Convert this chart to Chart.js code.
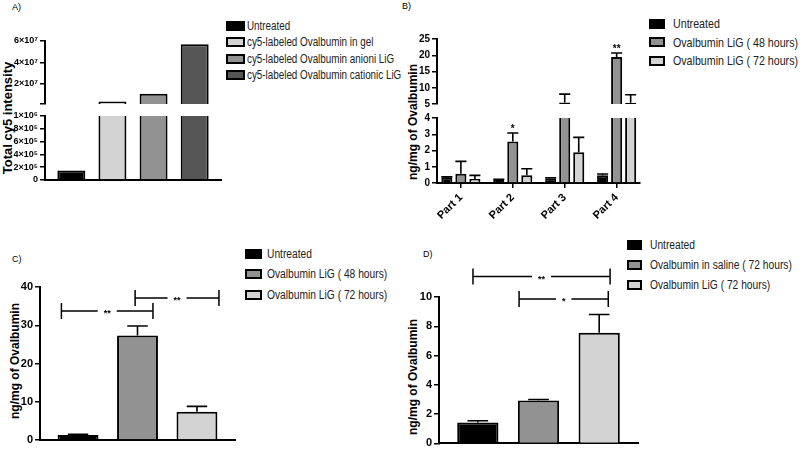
<!DOCTYPE html>
<html>
<head>
<meta charset="utf-8">
<script src="https://cdn.jsdelivr.net/npm/chart.js@4.4.1/dist/chart.umd.min.js"></script>
<style>
  body { margin: 0; width: 800px; height: 452px; position: relative; overflow: hidden; background: #fff;
         font-family: "Liberation Sans", Arial, sans-serif; color: #000; }
  canvas { position: absolute; }
  .tag { position: absolute; font-size: 9px; line-height: 9px; }
  .ytitle { position: absolute; font-weight: bold; white-space: nowrap; line-height: 1;
            transform: translate(-50%, -50%) rotate(-90deg); }
  .legend { position: absolute; font-family: "Liberation Sans", Arial, sans-serif; color: #222; }
  .legend .row { display: flex; align-items: center; white-space: nowrap; }
  .legend .box { box-sizing: border-box; border: 2px solid #000; flex: none; }
  .legend .txt { display: inline-block; transform: scaleX(0.82); transform-origin: left center; }
</style>
</head>
<body>
<div class="tag" style="left:12px;top:3px">A)</div>
<div class="tag" style="left:402px;top:2px">B)</div>
<div class="tag" style="left:12px;top:255px">C)</div>
<div class="tag" style="left:423px;top:250px">D)</div>

<div class="ytitle" style="left:7px;top:118px;font-size:13px">Total cy5 intensity</div>
<div class="ytitle" style="left:413px;top:122px;font-size:12px">ng/mg of Ovalbumin</div>
<div class="ytitle" style="left:15px;top:361px;font-size:12px">ng/mg of Ovalbumin</div>
<div class="ytitle" style="left:413px;top:377px;font-size:12px">ng/mg of Ovalbumin</div>

<div id="legA" class="legend"></div>
<div id="legB" class="legend"></div>
<div id="legC" class="legend"></div>
<div id="legD" class="legend"></div>

<canvas id="aUp"></canvas>
<canvas id="aLow"></canvas>
<canvas id="bUp"></canvas>
<canvas id="bLow"></canvas>
<canvas id="cChart"></canvas>
<canvas id="dChart"></canvas>

<script>
// ---- A) total cy5 intensity ----
const aCategories = ['Untreated', 'cy5-labeled Ovalbumin in gel', 'cy5-labeled Ovalbumin anioni LiG', 'cy5-labeled Ovalbumin cationic LiG'];
const aValues = [1.5e5, 3.4e6, 1.06e7, 5.69e7];
const aUpperTicks = [1e6, 2e7, 4e7, 6e7];
const aUpperLabels = ['', '2×10⁷', '4×10⁷', '6×10⁷'];
const aLowerTicks = [0, 2e5, 4e5, 6e5, 8e5, 1e6];
const aLowerLabels = ['0', '2×10⁵', '4×10⁵', '6×10⁵', '8×10⁵', '1×10⁶'];

// ---- B) by part ----
const bParts = ['Part 1', 'Part 2', 'Part 3', 'Part 4'];
const bSeries = ['Untreated', 'Ovalbumin LiG ( 48 hours)', 'Ovalbumin LiG ( 72 hours)'];
const bUntreated = [0.35, 0.20, 0.29, 0.47];
const bUntreatedErr = [0.03, 0.03, 0.03, 0.08];
const b48h = [0.57, 2.56, 5.5, 19.5];
const b48hErr = [0.76, 0.52, 2.55, 1.2];
const b72h = [0.25, 0.47, 1.89, 5.4];
const b72hErr = [0.22, 0.41, 0.92, 2.45];
const bUpperTicks = [5, 10, 15, 20, 25];
const bLowerTicks = [0, 1, 2, 3, 4];
const bStars = [{ part: 1, series: 1, text: '*' }, { part: 3, series: 1, text: '**' }];

// ---- C) ----
const cSeries = ['Untreated', 'Ovalbumin LiG ( 48 hours)', 'Ovalbumin LiG ( 72 hours)'];
const cValues = [1.3, 27.3, 7.4];
const cErrors = [0.2, 2.5, 1.4];
const cTicks = [0, 10, 20, 30, 40];
const cBrackets = [{ from: -0.28, to: 1.26, y: 33.7, text: '**' }, { from: 0.96, to: 2.37, y: 37.1, text: '**' }];

// ---- D) ----
const dSeries = ['Untreated', 'Ovalbumin in saline ( 72 hours)', 'Ovalbumin LiG ( 72 hours)'];
const dValues = [1.42, 2.93, 7.55];
const dErrors = [0.13, 0.07, 1.25];
const dTicks = [0, 2, 4, 6, 8, 10];
const dBrackets = [{ from: -0.08, to: 2.18, y: 11.4, text: '**' }, { from: 0.68, to: 2.15, y: 9.87, text: '*' }];

const BLACK = '#000', MID = '#929292', LIGHT = '#d3d3d3', DARK = '#555';
const aColors = [BLACK, LIGHT, MID, DARK];
const threeColors = [BLACK, MID, LIGHT];

Chart.defaults.font.family = '"Liberation Sans", Arial, sans-serif';
Chart.defaults.color = '#000';
Chart.defaults.animation = false;
Chart.defaults.plugins.legend.display = false;
Chart.defaults.plugins.tooltip.enabled = false;

// legends as html
function legend(id, names, colors, st) {
  const el = document.getElementById(id);
  el.style.left = st.left + 'px';
  el.style.top = st.top + 'px';
  el.style.fontSize = st.font + 'px';
  el.innerHTML = names.map((n, i) =>
    `<div class="row" style="height:${st.row}px"><span class="box" style="width:${st.bw}px;height:${st.bh}px;background:${colors[i]}"></span>` +
    `<span class="txt" style="margin-left:${st.gap}px">${n}</span></div>`).join('');
}
legend('legA', aCategories, aColors, { left: 226, top: 18, row: 16.3, font: 12, bw: 19, bh: 10, gap: 2 });
legend('legB', bSeries, threeColors, { left: 649, top: 14.7, row: 18.5, font: 13, bw: 16, bh: 10, gap: 8 });
legend('legC', cSeries, threeColors, { left: 245, top: 243.7, row: 20.5, font: 12.5, bw: 17, bh: 10, gap: 5 });
legend('legD', dSeries, threeColors, { left: 627, top: 235, row: 20, font: 12.5, bw: 15, bh: 10, gap: 8 });

// error bars (upper whisker only)
const errorBars = {
  id: 'errorBars',
  afterDatasetsDraw(chart, args, opts) {
    const ctx = chart.ctx, a = chart.chartArea, y = chart.scales.y;
    ctx.save();
    ctx.beginPath();
    ctx.rect(a.left, a.top - 1, a.right - a.left, a.bottom - a.top + 1);
    ctx.clip();
    ctx.strokeStyle = '#000';
    ctx.lineWidth = 1.6;
    chart.data.datasets.forEach((ds, i) => {
      if (!ds.errors) return;
      chart.getDatasetMeta(i).data.forEach((bar, j) => {
        const v = ds.data[j].y, e = ds.errors[j];
        const y0 = y.getPixelForValue(v), y1 = y.getPixelForValue(v + e);
        const cap = bar.width * opts.cap / 2;
        ctx.beginPath();
        ctx.moveTo(bar.x, y0); ctx.lineTo(bar.x, y1);
        ctx.moveTo(bar.x - cap, y1); ctx.lineTo(bar.x + cap, y1);
        ctx.stroke();
      });
    });
    ctx.restore();
  }
};

// significance stars above a bar's error cap
const stars = {
  id: 'stars',
  afterDatasetsDraw(chart, args, opts) {
    if (!opts.list) return;
    const ctx = chart.ctx, y = chart.scales.y;
    ctx.save();
    ctx.font = 'bold 10px "Liberation Sans", Arial, sans-serif';
    ctx.textAlign = 'center';
    ctx.textBaseline = 'alphabetic';
    opts.list.forEach(s => {
      const ds = chart.data.datasets[s.series];
      const top = ds.data[s.part].y + ds.errors[s.part];
      if (top < y.min || top > y.max) return;
      const bar = chart.getDatasetMeta(s.series).data[s.part];
      ctx.fillText(s.text, bar.x, y.getPixelForValue(top) - 1);
    });
    ctx.restore();
  }
};

// brackets between groups
const brackets = {
  id: 'brackets',
  afterDatasetsDraw(chart, args, opts) {
    if (!opts.list) return;
    const ctx = chart.ctx, x = chart.scales.x, y = chart.scales.y;
    ctx.save();
    ctx.strokeStyle = '#000';
    ctx.lineWidth = 1.5;
    ctx.font = 'bold 9px "Liberation Sans", Arial, sans-serif';
    ctx.textAlign = 'center';
    ctx.textBaseline = 'alphabetic';
    opts.list.forEach(b => {
      const x1 = x.getPixelForValue(b.from), x2 = x.getPixelForValue(b.to);
      const py = y.getPixelForValue(b.y), mid = (x1 + x2) / 2;
      const half = ctx.measureText(b.text).width / 2 + 6;
      ctx.beginPath();
      ctx.moveTo(x1, py - 8); ctx.lineTo(x1, py + 8);
      ctx.moveTo(x2, py - 8); ctx.lineTo(x2, py + 8);
      ctx.moveTo(x1, py); ctx.lineTo(mid - half, py);
      ctx.moveTo(mid + half, py); ctx.lineTo(x2, py);
      ctx.stroke();
      ctx.fillText(b.text, mid, py + 5);
    });
    ctx.restore();
  }
};

function place(id, box, area, yWidth, xHeight) {
  const c = document.getElementById(id);
  c.style.left = box[0] + 'px';
  c.style.top = box[1] + 'px';
  c.style.width = box[2] + 'px';
  c.style.height = box[3] + 'px';
  c.width = box[2];
  c.height = box[3];
  return {
    left: area[0] - box[0] - yWidth,
    top: area[1] - box[1],
    right: box[0] + box[2] - area[2],
    bottom: box[1] + box[3] - area[3] - xHeight
  };
}

function yScale(min, max, ticks, labels, size, width) {
  return {
    min: min, max: max,
    afterBuildTicks: s => { s.ticks = ticks.map(v => ({ value: v })); },
    afterFit: s => { s.width = width; },
    ticks: { autoSkip: false, callback: (v, i) => labels[i], font: { size: size, weight: 'bold' }, padding: 2, color: '#000' },
    grid: { drawOnChartArea: false, tickLength: 5, color: '#000', lineWidth: 1.5 },
    border: { color: '#000', width: 2 }
  };
}

function xScale(cats, lo, hi, show, height) {
  const s = {
    type: 'linear', min: lo, max: hi, display: show !== false, offset: false,
    afterBuildTicks: sc => { sc.ticks = cats.map((c, i) => ({ value: i })); },
    ticks: { display: false },
    grid: { display: false, offset: false },
    border: { color: '#000', width: 2 }
  };
  if (height !== undefined) s.afterFit = sc => { sc.height = height; };
  return s;
}

function series(values, colors, errors) {
  return {
    data: values.map((v, i) => ({ x: i, y: v })),
    backgroundColor: colors,
    borderColor: '#000',
    borderWidth: 2,
    borderSkipped: 'start',
    clip: 0,
    errors: errors
  };
}

const fmt = v => v.toString();

// ---- A upper / lower ----
new Chart(document.getElementById('aUp'), {
  type: 'bar',
  data: { datasets: [Object.assign(series(aValues, aColors), { categoryPercentage: 0.8, barPercentage: 0.85 })] },
  options: {
    responsive: false,
    layout: { padding: place('aUp', [0, 26, 232, 88], [45, 41, 221, 104], 43, 0) },
    scales: { x: xScale(aCategories, -0.64, 3.64, false), y: yScale(1e6, 6e7, aUpperTicks, aUpperLabels, 9, 43) }
  }
});
new Chart(document.getElementById('aLow'), {
  type: 'bar',
  data: { datasets: [Object.assign(series(aValues, aColors), { categoryPercentage: 0.8, barPercentage: 0.85 })] },
  options: {
    responsive: false,
    layout: { padding: place('aLow', [0, 106, 232, 84], [45, 116, 221, 180], 43, 0) },
    scales: { x: xScale(aCategories, -0.64, 3.64, true, 0), y: yScale(0, 1e6, aLowerTicks, aLowerLabels, 9, 43) }
  }
});

// ---- B upper / lower ----
function bData() {
  return [
    series(bUntreated, BLACK, bUntreatedErr),
    series(b48h, MID, b48hErr),
    series(b72h, LIGHT, b72hErr)
  ].map(d => Object.assign(d, { categoryPercentage: 0.81, barPercentage: 0.79 }));
}
new Chart(document.getElementById('bUp'), {
  type: 'bar',
  data: { datasets: bData() },
  options: {
    responsive: false,
    layout: { padding: place('bUp', [400, 24, 245, 90], [437, 39, 640, 104], 35, 0) },
    plugins: { errorBars: { cap: 1.0 }, stars: { list: bStars } },
    scales: { x: xScale(bParts, -0.46, 3.45, false), y: yScale(5, 25, bUpperTicks, bUpperTicks.map(fmt), 10, 35) }
  },
  plugins: [errorBars, stars]
});
const bLowX = xScale(bParts, -0.46, 3.45, true, 40);
bLowX.ticks = { display: true, autoSkip: false, minRotation: 45, maxRotation: 45, padding: 3,
                callback: v => bParts[v], font: { size: 11, weight: 'bold' }, color: '#000' };
bLowX.grid = { display: true, offset: false, drawOnChartArea: false, tickLength: 5, color: '#000', lineWidth: 1.5 };
new Chart(document.getElementById('bLow'), {
  type: 'bar',
  data: { datasets: bData() },
  options: {
    responsive: false,
    layout: { padding: place('bLow', [400, 108, 245, 122], [437, 118, 640, 183], 35, 40) },
    plugins: { errorBars: { cap: 1.0 }, stars: { list: bStars } },
    scales: { x: bLowX, y: yScale(0, 4, bLowerTicks, bLowerTicks.map(fmt), 10, 35) }
  },
  plugins: [errorBars, stars]
});

// ---- C ----
new Chart(document.getElementById('cChart'), {
  type: 'bar',
  data: { datasets: [Object.assign(series(cValues, threeColors, cErrors), { categoryPercentage: 0.8, barPercentage: 0.86 })] },
  options: {
    responsive: false,
    layout: { padding: place('cChart', [0, 275, 240, 177], [40, 287, 235, 440], 38, 0) },
    plugins: { errorBars: { cap: 0.5 }, brackets: { list: cBrackets } },
    scales: { x: xScale(cSeries, -0.64, 2.64, true, 0), y: yScale(0, 40, cTicks, cTicks.map(fmt), 11, 38) }
  },
  plugins: [errorBars, brackets]
});

// ---- D ----
new Chart(document.getElementById('dChart'), {
  type: 'bar',
  data: { datasets: [Object.assign(series(dValues, threeColors, dErrors), { categoryPercentage: 0.8, barPercentage: 0.85 })] },
  options: {
    responsive: false,
    layout: { padding: place('dChart', [402, 262, 240, 190], [439, 297, 638, 447], 35, 0) },
    plugins: { errorBars: { cap: 0.5 }, brackets: { list: dBrackets } },
    scales: { x: xScale(dSeries, -0.64, 2.64, true, 0), y: yScale(0, 10, dTicks, dTicks.map(fmt), 11, 35) }
  },
  plugins: [errorBars, brackets]
});
</script>
</body>
</html>
